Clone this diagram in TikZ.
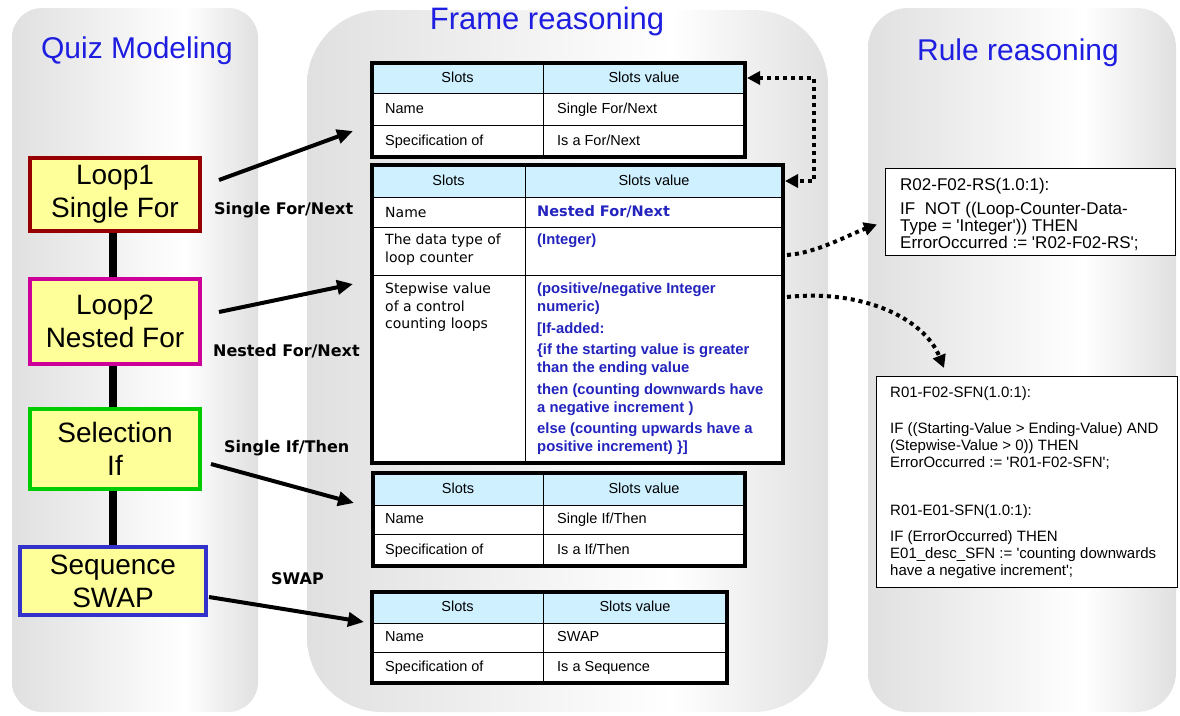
\documentclass[tikz,border=0pt]{standalone}
\usepackage{fontspec}
\setmainfont{Liberation Sans}
\newfontfamily\vfont{DejaVu Sans}
\newfontfamily\rulefont{Liberation Sans}[Ligatures=TeXOff]
\usetikzlibrary{arrows.meta}

\definecolor{bgG}{RGB}{224,224,224}
\definecolor{bgL}{RGB}{246,246,246}
\definecolor{ttl}{RGB}{30,30,225}
\definecolor{hdr}{RGB}{206,240,255}
\definecolor{val}{RGB}{35,35,190}
\definecolor{yel}{RGB}{255,255,153}
\definecolor{cLoopA}{RGB}{150,0,0}
\definecolor{cLoopB}{RGB}{204,0,153}
\definecolor{cSel}{RGB}{0,204,0}
\definecolor{cSeq}{RGB}{51,51,204}

\pgfdeclarehorizontalshading{colbg}{100bp}{color(0bp)=(bgG); color(25bp)=(bgG); color(50bp)=(bgL); color(60bp)=(white); color(75bp)=(bgG); color(100bp)=(bgG)}

\pgfdeclarelayer{back}
\pgfdeclarelayer{mid}
\pgfsetlayers{back,mid,main}

\tikzset{
  title/.style={font=\fontsize{30}{34}\selectfont, text=ttl, inner sep=0pt, anchor=base},
  qbox/.style={draw, line width=4pt, fill=yel, align=center, inner sep=0pt, font=\fontsize{28}{33}\selectfont},
  flowlabel/.style={font=\vfont\bfseries\fontsize{16}{19}\selectfont, inner sep=0pt, anchor=base west},
  fatarrow/.style={line width=4pt, -{Triangle[length=16pt,width=14pt]}},
  trunk/.style={line width=8pt},
  cellbox/.style={draw=black, line width=1pt, anchor=north west, inner sep=0pt, outer sep=0pt, fill=white},
  hcell/.style={cellbox, fill=hdr},
  tframe/.style={draw=black, line width=3.5pt},
  ttxt/.style={font=\fontsize{14.5}{17}\selectfont, inner sep=0pt, text height=10.5pt, text depth=2.5pt},
  vtxt/.style={font=\vfont\fontsize{14}{17.5}\selectfont, inner sep=0pt, align=left},
  btxt/.style={font=\bfseries\fontsize{14.8}{18}\selectfont, text=val, inner sep=0pt, align=left},
  rulebox/.style={draw=black, line width=1pt, fill=white, anchor=north west, inner sep=0pt},
  rtxt/.style={rulefontsty, inner sep=0pt, align=left, anchor=north west},
  rulefontsty/.style={font=\rulefont\fontsize{15}{17}\selectfont},
  dotline/.style={line width=4pt, dash pattern=on 4pt off 4pt},
  dottip/.style={dotline, -{Triangle[length=13pt,width=13pt]}},
}

\begin{document}
\begin{tikzpicture}[x=1pt,y=-1pt]
\useasboundingbox (0,0) rectangle (1180,715);

% column backgrounds
\begin{pgfonlayer}{back}
  \fill[white] (0,0) rectangle (1180,715);
  \shade[shading=colbg, rounded corners=30pt] (12,8) rectangle (258,712);
  \shade[shading=colbg, rounded corners=75pt] (307,10) rectangle (828,712);
  \shade[shading=colbg, rounded corners=40pt] (868,8) rectangle (1176,712);
\end{pgfonlayer}

% column titles
\node[title] (tq) at (137,58) {Quiz Modeling};
\node[title, font=\fontsize{31}{35}\selectfont] (tf) at (547,29) {Frame reasoning};
\node[title] (tr) at (1018,60) {Rule reasoning};

% quiz modeling chain
\node[qbox, draw=cLoopA, minimum width=170pt, minimum height=73pt] (l1) at (115,194.5) {Loop1\\Single For};
\node[qbox, draw=cLoopB, minimum width=170pt, minimum height=85pt] (l2) at (115,321.5) {Loop2\\Nested For};
\node[qbox, draw=cSel, minimum width=170pt, minimum height=80pt] (l3) at (115,449) {Selection\\If};
\node[qbox, draw=cSeq, minimum width=186pt, minimum height=68pt] (l4) at (113,581) {Sequence\\SWAP};

\begin{pgfonlayer}{mid}
  \draw[trunk] ([xshift=-2pt]l1.south) -- ([xshift=-2pt]l2.north);
  \draw[trunk] ([xshift=-2pt]l2.south) -- ([xshift=-2pt]l3.north);
  \draw[trunk] ([xshift=-2pt]l3.south) -- ([xshift=-2pt]l3.south |- l4.north);
\end{pgfonlayer}

% table 1 : Single For/Next
\node[hcell, minimum width=171pt, minimum height=30pt] (t1h1) at (372,63) {};
\node[hcell, minimum width=202pt, minimum height=30pt] (t1h2) at (t1h1.north east) {};
\node[cellbox, minimum width=171pt, minimum height=32pt] (t1a1) at (t1h1.south west) {};
\node[cellbox, minimum width=202pt, minimum height=32pt] (t1a2) at (t1a1.north east) {};
\node[cellbox, minimum width=171pt, minimum height=32pt] (t1b1) at (t1a1.south west) {};
\node[cellbox, minimum width=202pt, minimum height=32pt] (t1b2) at (t1b1.north east) {};
\draw[tframe] (t1h1.north west) rectangle (t1b2.south east);
\node[ttxt] (t1s1) at (t1h1) {Slots};
\node[ttxt] (t1s2) at (t1h2) {Slots value};
\node[ttxt, anchor=west] (t1n1) at ([xshift=13pt]t1a1.west) {Name};
\node[ttxt, anchor=west] (t1n2) at ([xshift=14pt]t1a2.west) {Single For/Next};
\node[ttxt, anchor=west] (t1p1) at ([xshift=13pt]t1b1.west) {Specification of};
\node[ttxt, anchor=west] (t1p2) at ([xshift=14pt]t1b2.west) {Is a For/Next};

% table 2 : Nested For/Next
\node[hcell, minimum width=153pt, minimum height=32pt] (t2h1) at (372,165) {};
\node[hcell, minimum width=258pt, minimum height=32pt] (t2h2) at (t2h1.north east) {};
\node[cellbox, minimum width=153pt, minimum height=30pt] (t2b1) at (t2h1.south west) {};
\node[cellbox, minimum width=258pt, minimum height=30pt] (t2b2) at (t2b1.north east) {};
\node[cellbox, minimum width=153pt, minimum height=48pt] (t2c1) at (t2b1.south west) {};
\node[cellbox, minimum width=258pt, minimum height=48pt] (t2c2) at (t2c1.north east) {};
\node[cellbox, minimum width=153pt, minimum height=188pt] (t2d1) at (t2c1.south west) {};
\node[cellbox, minimum width=258pt, minimum height=188pt] (t2d2) at (t2d1.north east) {};
\draw[tframe] (t2h1.north west) rectangle (t2d2.south east);
\node[ttxt] (t2s1) at (t2h1) {Slots};
\node[ttxt] (t2s2) at (t2h2) {Slots value};
\node[vtxt, anchor=west] (t2n1) at ([xshift=13pt]t2b1.west) {Name};
\node[btxt, font=\vfont\bfseries\fontsize{14.5}{18}\selectfont, anchor=west] (t2n2) at ([xshift=12pt]t2b2.west) {Nested For/Next};
\node[vtxt, anchor=north west] (t2t1) at ([xshift=13pt,yshift=-7pt]t2c1.north west) {The data type of\\loop counter};
\node[btxt, anchor=north west] (t2t2) at ([xshift=12pt,yshift=-7pt]t2c2.north west) {(Integer)};
\node[vtxt, anchor=north west] (t2w1) at ([xshift=13pt,yshift=-8pt]t2d1.north west) {Stepwise value\\of a control\\counting loops};
\node[btxt, anchor=north west] (t2w2) at ([xshift=12pt,yshift=-8pt]t2d2.north west)
  {(positive/negative Integer\\numeric)\\[3.5pt]
   {[}If-added:\\[3.5pt]
   \{if the starting value is greater\\than the ending value\\[3.5pt]
   then (counting downwards have\\a negative increment )\\[3.5pt]
   else (counting upwards have a\\positive increment) \}]};

% table 3 : Single If/Then
\node[hcell, minimum width=170pt, minimum height=32pt] (t3h1) at (373,473) {};
\node[hcell, minimum width=202pt, minimum height=32pt] (t3h2) at (t3h1.north east) {};
\node[cellbox, minimum width=170pt, minimum height=29pt] (t3a1) at (t3h1.south west) {};
\node[cellbox, minimum width=202pt, minimum height=29pt] (t3a2) at (t3a1.north east) {};
\node[cellbox, minimum width=170pt, minimum height=32pt] (t3b1) at (t3a1.south west) {};
\node[cellbox, minimum width=202pt, minimum height=32pt] (t3b2) at (t3b1.north east) {};
\draw[tframe] (t3h1.north west) rectangle (t3b2.south east);
\node[ttxt] (t3s1) at (t3h1) {Slots};
\node[ttxt] (t3s2) at (t3h2) {Slots value};
\node[ttxt, anchor=west] (t3n1) at ([xshift=12pt]t3a1.west) {Name};
\node[ttxt, anchor=west] (t3n2) at ([xshift=14pt]t3a2.west) {Single If/Then};
\node[ttxt, anchor=west] (t3p1) at ([xshift=12pt]t3b1.west) {Specification of};
\node[ttxt, anchor=west] (t3p2) at ([xshift=14pt]t3b2.west) {Is a If/Then};

% table 4 : SWAP
\node[hcell, minimum width=171pt, minimum height=31pt] (t4h1) at (372,592) {};
\node[hcell, minimum width=184pt, minimum height=31pt] (t4h2) at (t4h1.north east) {};
\node[cellbox, minimum width=171pt, minimum height=29pt] (t4a1) at (t4h1.south west) {};
\node[cellbox, minimum width=184pt, minimum height=29pt] (t4a2) at (t4a1.north east) {};
\node[cellbox, minimum width=171pt, minimum height=31pt] (t4b1) at (t4a1.south west) {};
\node[cellbox, minimum width=184pt, minimum height=31pt] (t4b2) at (t4b1.north east) {};
\draw[tframe] (t4h1.north west) rectangle (t4b2.south east);
\node[ttxt] (t4s1) at (t4h1) {Slots};
\node[ttxt] (t4s2) at (t4h2) {Slots value};
\node[ttxt, anchor=west] (t4n1) at ([xshift=13pt]t4a1.west) {Name};
\node[ttxt, anchor=west] (t4n2) at ([xshift=14pt]t4a2.west) {SWAP};
\node[ttxt, anchor=west] (t4p1) at ([xshift=13pt]t4b1.west) {Specification of};
\node[ttxt, anchor=west] (t4p2) at ([xshift=14pt]t4b2.west) {Is a Sequence};

% connector labels
\node[flowlabel] (lb1) at (214,214) {Single For/Next};
\node[flowlabel] (lb2) at (213,356) {Nested For/Next};
\node[flowlabel] (lb3) at (224,452) {Single If/Then};
\node[flowlabel] (lb4) at (271,584) {SWAP};

% quiz items to frames
\draw[fatarrow] ([xshift=17pt,yshift=14.5pt]l1.east) -- ([xshift=-19pt,yshift=10pt]t1b1.west);
\draw[fatarrow] ([xshift=17pt,yshift=9.5pt]l2.east) -- ([xshift=-19pt,yshift=-9pt]t2d1.north west);
\draw[fatarrow] ([xshift=9pt,yshift=-15pt]l3.east) -- ([xshift=-19pt,yshift=2pt]t3h1.south west);
\draw[fatarrow] ([xshift=1pt,yshift=-16pt]l4.east) -- ([xshift=-8pt,yshift=1pt]t4h1.south west);

% rule boxes
\node[rulebox, minimum width=290pt, minimum height=87pt] (r1) at (885,168) {};
\node[rtxt, font=\rulefont\fontsize{17}{17}\selectfont] (r1t) at ([xshift=15pt,yshift=-10pt]r1.north west)
  {R02-F02-RS(1.0:1):\\[7pt]
   IF\ \ NOT ((Loop-Counter-Data-\\Type = 'Integer')) THEN\\ErrorOccurred := 'R02-F02-RS';};
\node[rulebox, minimum width=301pt, minimum height=211pt] (r2) at (876,376) {};
\node[rtxt] (r2t) at ([xshift=14pt,yshift=-10pt]r2.north west)
  {R01-F02-SFN(1.0:1):\\[19pt]
   IF ((Starting-Value > Ending-Value) AND\\(Stepwise-Value > 0)) THEN\\ErrorOccurred := 'R01-F02-SFN';\\[31pt]
   R01-E01-SFN(1.0:1):\\[9pt]
   IF (ErrorOccurred) THEN\\E01\_desc\_SFN := 'counting downwards\\have a negative increment';};

% dotted links between frames and rules
\draw[dotline, {Triangle[length=13pt,width=13pt]}-{Triangle[length=13pt,width=13pt]}]
  ([xshift=2pt]t1h2.east) -- ++(67,0) |- ([xshift=2pt]t2h2.east);
\draw[dottip] ([xshift=4pt,yshift=-28pt]t2c2.north east) .. controls +(30,-2) and +(-28,10) .. ([xshift=-8pt,yshift=-12.5pt]r1.west);
\draw[dottip] ([xshift=4pt,yshift=-22pt]t2d2.north east) .. controls +(75,-8) and +(-20,-50) .. ([xshift=68pt,yshift=8pt]r2.north west);
\end{tikzpicture}
\end{document}
